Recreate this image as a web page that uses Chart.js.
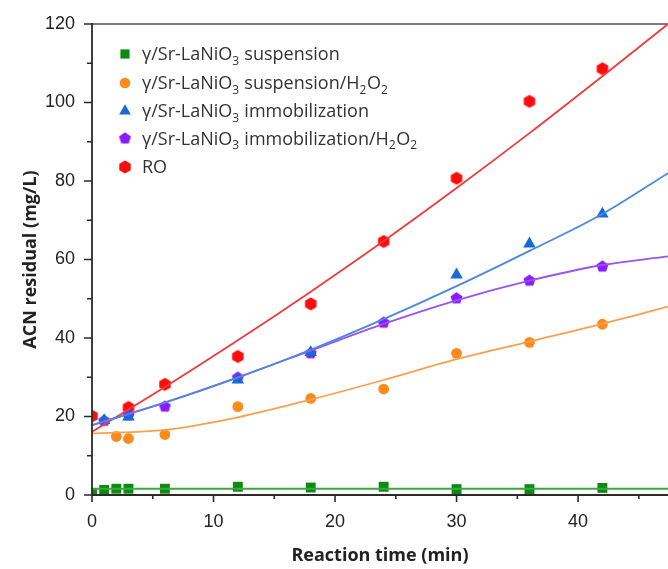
<!DOCTYPE html>
<html>
<head>
<meta charset="utf-8">
<script src="https://cdn.jsdelivr.net/npm/chart.js@4.4.1/dist/chart.umd.min.js"></script>
<style>
  html, body { margin: 0; padding: 0; background: #fff; }
  #wrap { width: 668px; height: 569px; position: relative; }
</style>
</head>
<body>
<div id="wrap"><canvas id="c" width="668" height="569"></canvas></div>
<script>
// ---- data ----
const suspX = [0, 1, 2, 3, 6, 12, 18, 24, 30, 36, 42];
const suspY = [0.3, 1.3, 1.6, 1.6, 1.6, 2.1, 1.9, 2.1, 1.5, 1.5, 1.8];

const suspH2O2X = [2, 3, 6, 12, 18, 24, 30, 36, 42];
const suspH2O2Y = [14.9, 14.4, 15.4, 22.5, 24.6, 27.0, 36.1, 38.9, 43.5];

const immobX = [1, 3, 12, 18, 30, 36, 42];
const immobY = [19.0, 19.9, 29.3, 36.3, 56.1, 64.0, 71.6];

const immobH2O2X = [1, 3, 6, 12, 18, 24, 30, 36, 42];
const immobH2O2Y = [18.9, 20.3, 22.5, 29.9, 36.1, 43.9, 50.1, 54.6, 58.2];

const roX = [0, 3, 6, 12, 18, 24, 30, 36, 42];
const roY = [20.1, 22.3, 28.2, 35.3, 48.7, 64.6, 80.7, 100.3, 108.6];

// fitted curves, read at these times
const fitX = [0, 6, 12, 18, 24, 30, 36, 42, 47.4];
const suspFit = [1.6, 1.6, 1.6, 1.6, 1.6, 1.6, 1.6, 1.6, 1.6];
const suspH2O2Fit = [15.7, 16.6, 19.8, 24.3, 29.3, 34.6, 39.1, 43.6, 48.0];
const immobFit = [17.8, 23.5, 29.9, 37.0, 44.8, 53.2, 62.2, 71.6, 82.0];
const immobH2O2Fit = [17.8, 23.6, 30.0, 36.8, 43.6, 49.6, 54.6, 58.6, 60.8];
const roFit = [16.1, 27.5, 39.4, 51.8, 64.7, 78.2, 92.2, 106.7, 120.0];

const yTicks = [0, 20, 40, 60, 80, 100, 120];
const xTicks = [0, 10, 20, 30, 40];
const xMinorTicks = [5, 15, 25, 35, 45];
const yMinorTicks = [10, 30, 50, 70, 90, 110];

const legendNames = [
  ['γ/Sr-LaNiO', '3', ' suspension'],
  ['γ/Sr-LaNiO', '3', ' suspension/H', '2', 'O', '2'],
  ['γ/Sr-LaNiO', '3', ' immobilization'],
  ['γ/Sr-LaNiO', '3', ' immobilization/H', '2', 'O', '2'],
  ['RO']
];

// ---- styles ----
const C = {
  green: '#0e8a14', greenLine: '#3aa83a',
  orange: '#ff8a1c', orangeLine: '#f7a14e',
  blue: '#1769d8', blueLine: '#4a89dc',
  purple: '#8a1cff', purpleLine: '#9b52f5',
  red: '#ff0b0b', redLine: '#ef3b3b'
};

function polyImage(n, r, color, rot) {
  const s = Math.ceil(r * 2 + 2);
  const cv = document.createElement('canvas');
  cv.width = s; cv.height = s;
  const g = cv.getContext('2d');
  g.fillStyle = color;
  g.beginPath();
  for (let i = 0; i < n; i++) {
    const a = rot + i * 2 * Math.PI / n;
    const px = s / 2 + r * Math.cos(a), py = s / 2 + r * Math.sin(a);
    if (i === 0) g.moveTo(px, py); else g.lineTo(px, py);
  }
  g.closePath();
  g.fill();
  return cv;
}
const pentagon = polyImage(5, 6.3, C.purple, -Math.PI / 2);
const hexagon = polyImage(6, 6.6, C.red, -Math.PI / 2);

const pts = (xs, ys) => xs.map((x, i) => ({ x: x, y: ys[i] }));

function fitSet(ys, color, w) {
  return {
    data: pts(fitX, ys), showLine: true, borderColor: color, borderWidth: w || 1.8,
    pointRadius: 0, pointHoverRadius: 0, cubicInterpolationMode: 'monotone', fill: false
  };
}
function markSet(xs, ys, color, style, r) {
  return {
    data: pts(xs, ys), showLine: false, pointStyle: style, pointRadius: r,
    backgroundColor: color, borderColor: color, borderWidth: 0, pointBorderWidth: 0
  };
}

const legendStyles = [
  { style: 'rect', r: 6.5, color: C.green },
  { style: 'circle', r: 5.3, color: C.orange },
  { style: 'triangle', r: 6.8, color: C.blue },
  { style: pentagon, r: 6, color: C.purple },
  { style: hexagon, r: 6, color: C.red }
];

const framePlugin = {
  id: 'frame',
  beforeDatasetsDraw(chart) {
    const { ctx, chartArea: a } = chart;
    ctx.save();
    ctx.strokeStyle = '#7a7a7a';
    ctx.lineWidth = 2;
    ctx.beginPath(); ctx.moveTo(a.left, a.top); ctx.lineTo(chart.width, a.top); ctx.stroke();
    ctx.restore();
  },
  afterDatasetsDraw(chart) {
    const { ctx, chartArea: a, scales } = chart;
    const xs = scales.x, ys = scales.y;
    ctx.save();
    ctx.strokeStyle = '#2a2a2a';
    ctx.lineWidth = 1.8;
    ctx.beginPath();
    ctx.moveTo(a.left, a.top - 1); ctx.lineTo(a.left, a.bottom);
    ctx.lineTo(chart.width, a.bottom);
    ctx.stroke();
    ctx.lineWidth = 1.6;
    ctx.beginPath();
    yTicks.forEach(v => { const p = ys.getPixelForValue(v); ctx.moveTo(a.left, p); ctx.lineTo(a.left - 8, p); });
    yMinorTicks.forEach(v => { const p = ys.getPixelForValue(v); ctx.moveTo(a.left, p); ctx.lineTo(a.left - 5, p); });
    xTicks.forEach(v => { const p = xs.getPixelForValue(v); ctx.moveTo(p, a.bottom); ctx.lineTo(p, a.bottom + 7); });
    xMinorTicks.forEach(v => { const p = xs.getPixelForValue(v); ctx.moveTo(p, a.bottom); ctx.lineTo(p, a.bottom + 4); });
    ctx.stroke();

    // legend
    const lx = 125, tx = 142, rows = [54, 83, 111, 138.5, 167];
    legendNames.forEach((parts, i) => {
      const st = legendStyles[i];
      ctx.fillStyle = st.color;
      Chart.helpers.drawPoint(ctx, { pointStyle: st.style, radius: st.r, rotation: 0, borderWidth: 0 }, lx, rows[i]);
      let x = tx;
      ctx.textBaseline = 'alphabetic';
      ctx.fillStyle = '#333';
      parts.forEach((t, j) => {
        if (!t) return;
        const sub = (j % 2 === 1);
        ctx.font = sub ? '12px "Open Sans"' : '18px "Open Sans"';
        const y = rows[i] + (sub ? 10.5 : 6);
        ctx.fillText(t, x, y);
        x += ctx.measureText(t).width + (sub ? 0.5 : 0);
      });
    });
    ctx.restore();
  }
};

new Chart(document.getElementById('c'), {
  type: 'scatter',
  data: {
    datasets: [
      fitSet(suspFit, C.greenLine, 2),
      fitSet(suspH2O2Fit, C.orangeLine),
      fitSet(immobFit, C.blueLine),
      fitSet(immobH2O2Fit, C.purpleLine),
      fitSet(roFit, C.redLine),
      markSet(suspX, suspY, C.green, 'rect', 7),
      markSet(suspH2O2X, suspH2O2Y, C.orange, 'circle', 5.4),
      markSet(immobX, immobY, C.blue, 'triangle', 7.2),
      markSet(immobH2O2X, immobH2O2Y, C.purple, pentagon, 6),
      markSet(roX, roY, C.red, hexagon, 6.6)
    ]
  },
  options: {
    responsive: false,
    animation: false,
    layout: { autoPadding: false, padding: { top: 24, right: 0, left: 0, bottom: 0 } },
    plugins: { legend: { display: false }, tooltip: { enabled: false } },
    scales: {
      x: {
        type: 'linear', min: 0, max: 47.4,
        grid: { display: false, drawTicks: false },
        border: { display: false },
        afterBuildTicks: s => { s.ticks = xTicks.map(v => ({ value: v })); },
        afterFit: s => { s.height = 74; s.paddingLeft = 0; s.paddingRight = 0; },
        ticks: {
          padding: 16, color: '#222', maxRotation: 0,
          font: { family: '"Liberation Sans", Arial', size: 18 },
          callback: v => String(v)
        },
        title: {
          display: true, text: 'Reaction time (min)', color: '#222',
          font: { family: '"Open Sans"', size: 18, weight: 'bold' },
          padding: { top: 0, bottom: 2 }
        }
      },
      y: {
        type: 'linear', min: 0, max: 120,
        grid: { display: false, drawTicks: false },
        border: { display: false },
        afterBuildTicks: s => { s.ticks = yTicks.map(v => ({ value: v })); },
        afterFit: s => { s.width = 92; s.paddingTop = 0; s.paddingBottom = 0; },
        ticks: {
          padding: 17, color: '#222',
          font: { family: '"Liberation Sans", Arial', size: 18 },
          callback: v => String(v)
        },
        title: {
          display: true, text: 'ACN residual (mg/L)', color: '#222',
          font: { family: '"Open Sans"', size: 18, weight: 'bold' },
          padding: { top: 20, bottom: 0 }
        }
      }
    }
  },
  plugins: [framePlugin]
});
</script>
</body>
</html>
